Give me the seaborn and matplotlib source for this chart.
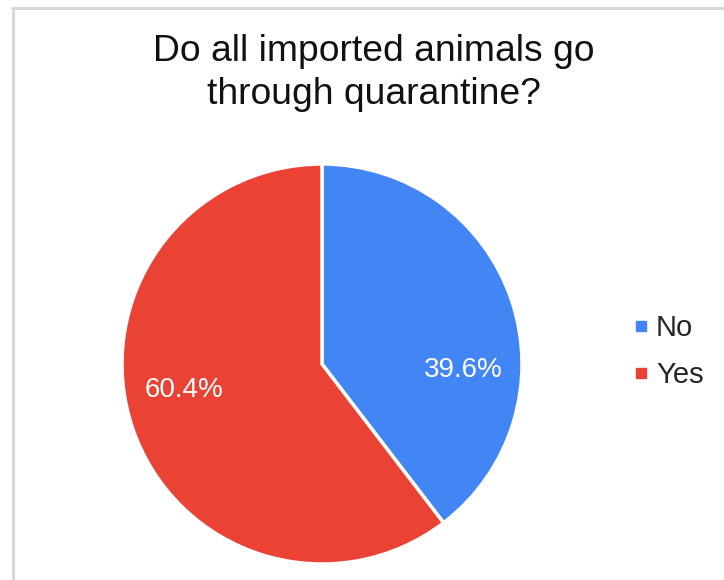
import matplotlib
matplotlib.use("Agg")
import matplotlib.pyplot as plt
from matplotlib.lines import Line2D
import seaborn as sns

# Survey answers
categories = ["No", "Yes"]
shares = [39.6, 60.4]
colors = ["#4285F4", "#EA4335"]
title = "Do all imported animals go\nthrough quarantine?"

sns.set_theme(style="white")
plt.rcParams["font.family"] = ["Liberation Sans", "DejaVu Sans"]

W, H = 724, 580
fig = plt.figure(figsize=(W / 100, H / 100), dpi=100)
fig.patch.set_facecolor("white")

# light frame along the top and left edges
fig.add_artist(Line2D([12.5 / W, 12.5 / W], [0, 1 - 7.5 / H], transform=fig.transFigure,
                      color="#d9d9d9", lw=2.2, solid_capstyle="butt"))
fig.add_artist(Line2D([11 / W, 1], [1 - 7.5 / H, 1 - 7.5 / H], transform=fig.transFigure,
                      color="#d9d9d9", lw=2.2, solid_capstyle="butt"))

cx, cy, r = 322, 364, 200
ax = fig.add_axes([(cx - r) / W, 1 - (cy + r) / H, 2 * r / W, 2 * r / H])
wedges, texts, autotexts = ax.pie(
    shares, colors=colors, startangle=90, counterclock=False,
    autopct="%.1f%%", pctdistance=0.7,
    wedgeprops=dict(edgecolor="white", linewidth=2.5),
    textprops=dict(color="white", fontsize=20),
)
# label placement inside each slice
autotexts[0].set_position((0.705, -0.03))
autotexts[1].set_position((-0.69, -0.13))
for t in autotexts:
    t.set_ha("center")
    t.set_va("center")
ax.set_xlim(-1, 1)
ax.set_ylim(-1, 1)
ax.set_aspect("equal")
ax.axis("off")

fig.text(374 / W, 1 - 73 / H, title, ha="center", va="center",
         fontsize=26.8, color="#111111", linespacing=1.28)

handles = [Line2D([], [], marker="s", linestyle="none", markersize=7.2,
                  markerfacecolor=c, markeredgecolor=c) for c in colors]
fig.legend(handles, categories, loc="center left",
           bbox_to_anchor=(618 / W, 1 - 351.5 / H), frameon=False,
           fontsize=21, handlelength=0.6, handletextpad=0.2,
           labelspacing=0.65, borderpad=0)

fig.savefig("out.png", dpi=100, facecolor="white")
